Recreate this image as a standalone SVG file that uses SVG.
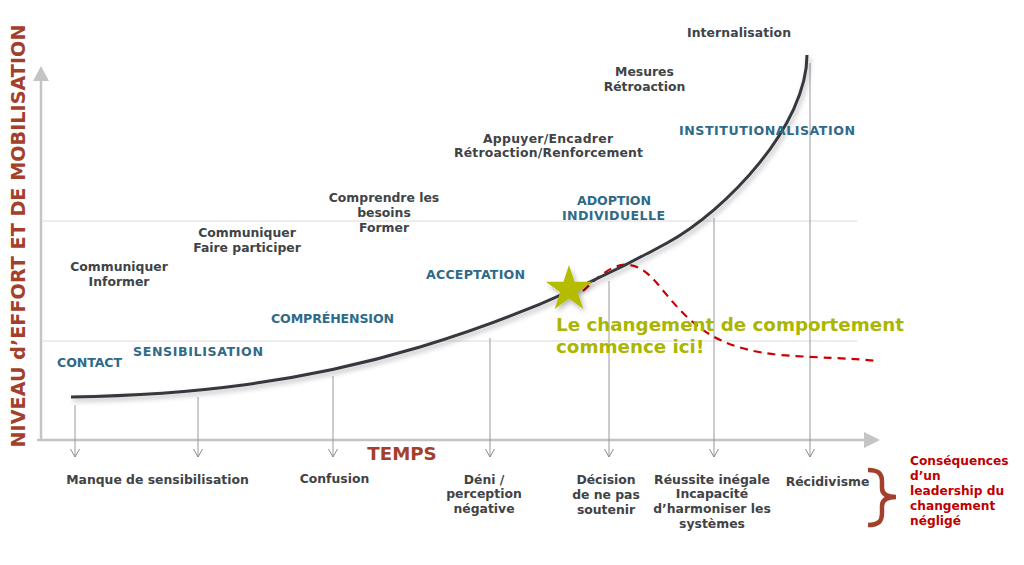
<svg xmlns="http://www.w3.org/2000/svg" width="1024" height="565" viewBox="0 0 1024 565">
  <defs>
    <style>
      text { font-family: "DejaVu Sans", Verdana, sans-serif; font-weight: bold; }
      .act { font-size: 12.4px; fill: #404347; text-anchor: middle; }
      .stage { font-size: 12.6px; fill: #2f6a89; text-anchor: middle; }
      .risk { font-size: 12.4px; fill: #404347; text-anchor: middle; }
      .axis-title { font-size: 19.2px; fill: #a3402b; }
      .conseq { font-size: 12.2px; fill: #c00000; }
      .green { font-size: 18.3px; fill: #abb600; }
      .axis { stroke: #c4c4c4; stroke-width: 2.5; fill: none; }
      .grid { stroke: #ededed; stroke-width: 2; fill: none; }
      .drop { stroke: #9a9a9a; stroke-width: 1; fill: none; marker-end: url(#vhead); }
    </style>
    <marker id="vhead" viewBox="0 0 10 10" refX="9" refY="5" markerWidth="10" markerHeight="10" markerUnits="userSpaceOnUse" orient="auto">
      <path d="M1,0.5 L9,5 L1,9.5" fill="none" stroke="#8a8a8a" stroke-width="1"/>
    </marker>
    <filter id="shadow" x="-10%" y="-10%" width="130%" height="130%">
      <feDropShadow dx="2" dy="3" stdDeviation="2.5" flood-color="#000" flood-opacity="0.28"/>
    </filter>
  </defs>

  <rect width="1024" height="565" fill="#ffffff"/>

  <!-- background grid -->
  <g id="grid">
    <line class="grid" x1="43" y1="221" x2="857" y2="221"/>
    <line class="grid" x1="43" y1="341" x2="857" y2="341"/>
  </g>

  <!-- axes -->
  <g id="axes">
    <line class="axis" x1="41" y1="441" x2="41" y2="80"/>
    <polygon points="41,66 33,81 49,81" fill="#c4c4c4"/>
    <line class="axis" x1="37" y1="440" x2="866" y2="440"/>
    <polygon points="880,440 864,432 864,448" fill="#c4c4c4"/>
    <text class="axis-title" transform="translate(25,236) rotate(-90)" text-anchor="middle">NIVEAU d’EFFORT ET DE MOBILISATION</text>
    <text class="axis-title" x="402" y="460" text-anchor="middle" style="font-size:18.2px">TEMPS</text>
  </g>

  <!-- connectors: drop lines from the curve to the risks -->
  <g id="connectors">
    <line class="drop" x1="75" y1="405" x2="75" y2="457"/>
    <line class="drop" x1="198" y1="397" x2="198" y2="457"/>
    <line class="drop" x1="333" y1="376" x2="333" y2="457"/>
    <line class="drop" x1="490" y1="338" x2="490" y2="457"/>
    <line class="drop" x1="609" y1="281" x2="609" y2="457"/>
    <line class="drop" x1="714" y1="218" x2="714" y2="457"/>
    <line class="drop" x1="810" y1="63" x2="810" y2="457"/>
  </g>

  <!-- regression path after the turning point -->
  <g id="regression">
    <path d="M583,291 C600,275 615,262 630,265 C650,268 660,290 683,313 C705,335 730,350 780,355 C820,358 850,358 878,361" fill="none" stroke="#cc0000" stroke-width="2.2" stroke-dasharray="8,6"/>
  </g>

  <!-- change curve -->
  <g id="curve">
    <path d="M71,397 C190,395 300,383 420,347 C500,323 587,287 667,243 C727,210 807,125 807,55" fill="none" stroke="#34383d" stroke-width="3" filter="url(#shadow)"/>
  </g>

  <!-- turning point star -->
  <g id="star">
    <polygon points="569,265 574.5,281.8 592.1,281.8 577.8,292.2 583.3,309 569,298.6 554.7,309 560.2,292.2 545.9,281.8 563.5,281.8" fill="#b4bc00" filter="url(#shadow)"/>
    <text class="green" x="556" y="331">Le changement de comportement</text>
    <text class="green" x="556" y="353">commence ici!</text>
  </g>

  <!-- stages -->
  <g id="stage-contact"><text class="stage" x="89.5" y="367" textLength="65" lengthAdjust="spacing">CONTACT</text></g>
  <g id="stage-sensibilisation"><text class="stage" x="198" y="356" textLength="130" lengthAdjust="spacing">SENSIBILISATION</text></g>
  <g id="stage-comprehension"><text class="stage" x="332.5" y="323" textLength="123" lengthAdjust="spacing">COMPRÉHENSION</text></g>
  <g id="stage-acceptation"><text class="stage" x="475.5" y="279" textLength="99" lengthAdjust="spacing">ACCEPTATION</text></g>
  <g id="stage-adoption">
    <text class="stage" x="614" y="205" textLength="74" lengthAdjust="spacing">ADOPTION</text>
    <text class="stage" x="613.5" y="220" textLength="103" lengthAdjust="spacing">INDIVIDUELLE</text>
  </g>
  <g id="stage-institutionnalisation"><text class="stage" x="767" y="135" textLength="176" lengthAdjust="spacing">INSTITUTIONALISATION</text></g>

  <!-- leadership actions -->
  <g id="act-informer">
    <text class="act" x="119" y="271">Communiquer</text>
    <text class="act" x="119" y="286">Informer</text>
  </g>
  <g id="act-participer">
    <text class="act" x="247" y="237">Communiquer</text>
    <text class="act" x="247" y="252">Faire participer</text>
  </g>
  <g id="act-former">
    <text class="act" x="384" y="202">Comprendre les</text>
    <text class="act" x="384" y="217">besoins</text>
    <text class="act" x="384" y="232">Former</text>
  </g>
  <g id="act-appuyer">
    <text class="act" x="548" y="143" textLength="130" lengthAdjust="spacing">Appuyer/Encadrer</text>
    <text class="act" x="548.5" y="157" textLength="189" lengthAdjust="spacing">Rétroaction/Renforcement</text>
  </g>
  <g id="act-mesures">
    <text class="act" x="644.5" y="76">Mesures</text>
    <text class="act" x="644.5" y="91">Rétroaction</text>
  </g>
  <g id="act-internalisation"><text class="act" x="739" y="37" textLength="104" lengthAdjust="spacing">Internalisation</text></g>

  <!-- risks when leadership is missing -->
  <g id="risk-sensibilisation"><text class="risk" x="157.5" y="484">Manque de sensibilisation</text></g>
  <g id="risk-confusion"><text class="risk" x="334.5" y="483">Confusion</text></g>
  <g id="risk-deni">
    <text class="risk" x="484" y="484">Déni /</text>
    <text class="risk" x="484" y="498">perception</text>
    <text class="risk" x="484" y="513">négative</text>
  </g>
  <g id="risk-decision">
    <text class="risk" x="606" y="484">Décision</text>
    <text class="risk" x="606" y="499">de ne pas</text>
    <text class="risk" x="606" y="514">soutenir</text>
  </g>
  <g id="risk-reussite">
    <text class="risk" x="712" y="484">Réussite inégale</text>
    <text class="risk" x="712" y="498">Incapacité</text>
    <text class="risk" x="712" y="513">d’harmoniser les</text>
    <text class="risk" x="712" y="528">systèmes</text>
  </g>
  <g id="risk-recidivisme"><text class="risk" x="827.5" y="486">Récidivisme</text></g>

  <!-- consequences brace -->
  <g id="consequences">
    <path d="M868,470 C879,470 882,474 882,482 L882,488 C882,494 886,497 896,497 C886,497 882,500 882,506 L882,513 C882,521 879,525 868,525" fill="none" stroke="#a3402b" stroke-width="4.5"/>
    <text class="conseq" x="910" y="465">Conséquences</text>
    <text class="conseq" x="910" y="480">d’un</text>
    <text class="conseq" x="910" y="495">leadership du</text>
    <text class="conseq" x="910" y="510">changement</text>
    <text class="conseq" x="910" y="525">négligé</text>
  </g>
</svg>
